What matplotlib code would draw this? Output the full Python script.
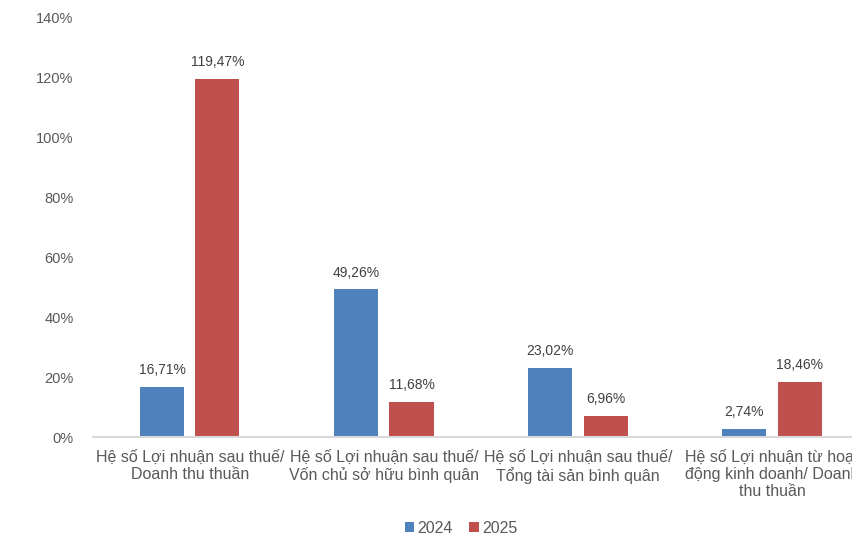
import numpy as np
import matplotlib.pyplot as plt

plt.rcParams['font.family'] = ['Liberation Sans', 'DejaVu Sans']

# Data
categories = ['Hệ số Lợi nhuận sau thuế/\nDoanh thu thuần',
              'Hệ số Lợi nhuận sau thuế/\nVốn chủ sở hữu bình quân',
              'Hệ số Lợi nhuận sau thuế/\nTổng tài sản bình quân',
              'Hệ số Lợi nhuận từ hoạt\nđộng kinh doanh/ Doanh\nthu thuần']
values_2024 = [16.71, 49.26, 23.02, 2.74]
values_2025 = [119.47, 11.68, 6.96, 18.46]
labels_2024 = ['16,71%', '49,26%', '23,02%', '2,74%']
labels_2025 = ['119,47%', '11,68%', '6,96%', '18,46%']

fig = plt.figure(figsize=(8.52, 5.4), dpi=100)
# plot area runs past the right edge, like the cropped original
ax = fig.add_axes([0.109, 0.1907, 0.911, 0.7778])

x = np.arange(len(categories))
w = 0.227
off = 0.142
b1 = ax.bar(x - off, values_2024, w, color='#4F81BD', label='2024')
b2 = ax.bar(x + off, values_2025, w, color='#C0504D', label='2025')

for bars, labs in [(b1, labels_2024), (b2, labels_2025)]:
    for bar, lab in zip(bars, labs):
        ax.annotate(lab, (bar.get_x() + bar.get_width() / 2, bar.get_height()),
                    xytext=(0, 7), textcoords='offset points',
                    ha='center', va='bottom', fontsize=10, color='#404040')

ax.set_xlim(-0.5, len(categories) - 0.5)
ax.set_ylim(0, 140)
ax.set_yticks(np.arange(0, 141, 20))
ax.set_yticklabels([f'{v}%' for v in range(0, 141, 20)])
ax.set_xticks(x)
ax.set_xticklabels(categories, fontsize=11.5, color='#595959')
ax.tick_params(axis='y', length=0, labelsize=10.5, labelcolor='#595959', pad=14)
ax.tick_params(axis='x', length=0, pad=9)

for s in ['top', 'right', 'left']:
    ax.spines[s].set_visible(False)
ax.spines['bottom'].set_color('#D9D9D9')
ax.spines['bottom'].set_linewidth(1.5)

fig.legend(handles=[b1, b2], loc='center', bbox_to_anchor=(0.541, 0.022), ncol=2,
           frameon=False, fontsize=11.5, handlelength=0.6, handleheight=0.6,
           handletextpad=0.2, columnspacing=1.0, labelcolor='#595959')

plt.savefig('out.png', dpi=100)
